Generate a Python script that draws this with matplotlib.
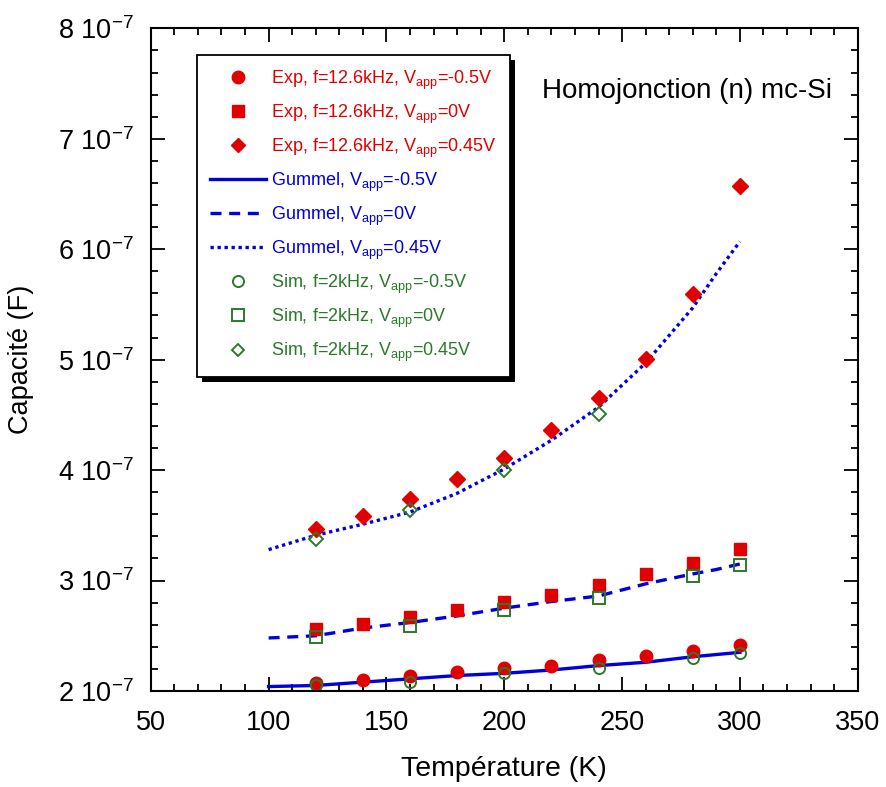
import numpy as np
import matplotlib
matplotlib.use("Agg")
import matplotlib.pyplot as plt
from matplotlib.ticker import MultipleLocator, FuncFormatter
from matplotlib.lines import Line2D
from matplotlib.patches import Rectangle

plt.rcParams["font.family"] = ["Liberation Sans", "DejaVu Sans"]
plt.rcParams["mathtext.default"] = "regular"

# Temperatures (K)
t_exp = [120, 140, 160, 180, 200, 220, 240, 260, 280, 300]
t_sim = [120, 160, 200, 240, 280, 300]
t_sim_045 = [120, 160, 200, 240]
t_gum = [100, 120, 140, 160, 180, 200, 220, 240, 260, 280, 290, 300]

# Capacitance in units of 1e-7 F
exp_m05 = [2.07, 2.10, 2.14, 2.17, 2.21, 2.23, 2.28, 2.32, 2.36, 2.42]
exp_0 = [2.56, 2.61, 2.67, 2.73, 2.81, 2.87, 2.96, 3.06, 3.16, 3.29]
exp_045 = [3.47, 3.58, 3.74, 3.92, 4.11, 4.36, 4.65, 5.01, 5.59, 6.57]

gum_m05 = [2.04, 2.05, 2.08, 2.11, 2.14, 2.16, 2.19, 2.23, 2.26, 2.31, 2.33, 2.35]
gum_0 = [2.48, 2.50, 2.57, 2.62, 2.68, 2.75, 2.81, 2.86, 2.97, 3.06, 3.10, 3.15]
gum_045 = [3.28, 3.41, 3.51, 3.62, 3.79, 4.01, 4.27, 4.57, 4.97, 5.47, 5.78, 6.07]

sim_m05 = [2.05, 2.08, 2.16, 2.21, 2.30, 2.34]
sim_0 = [2.49, 2.59, 2.73, 2.84, 3.04, 3.14]
sim_045 = [3.38, 3.64, 4.00, 4.51]

red = "#e00000"
blue = "#0000dd"
green = "#2a7a2a"
scale = 1e-7
dash = (0, (3.3, 2.3))
dot = (0, (1, 1.1))

fig = plt.figure(figsize=(8.87, 7.87), dpi=100)
ax = fig.add_axes([0.170, 0.122, 0.797, 0.842])

# Gummel curves
ax.plot(t_gum, np.array(gum_m05) * scale, color=blue, lw=2.4, ls="-")
ax.plot(t_gum, np.array(gum_0) * scale, color=blue, lw=2.4, ls=dash)
ax.plot(t_gum, np.array(gum_045) * scale, color=blue, lw=2.4, ls=dot)

# Experimental points
ax.plot(t_exp, np.array(exp_m05) * scale, "o", color=red, ms=9, mec=red)
ax.plot(t_exp, np.array(exp_0) * scale, "s", color=red, ms=9, mec=red)
ax.plot(t_exp, np.array(exp_045) * scale, "D", color=red, ms=8, mec=red)

# Simulated points
ax.plot(t_sim, np.array(sim_m05) * scale, "o", mfc="none", mec=green, ms=8, mew=1.4)
ax.plot(t_sim, np.array(sim_0) * scale, "s", mfc="none", mec=green, ms=8, mew=1.4)
ax.plot(t_sim_045, np.array(sim_045) * scale, "D", mfc="none", mec=green, ms=7, mew=1.4)

ax.set_xlim(50, 350)
ax.set_ylim(2e-7, 8e-7)
ax.xaxis.set_major_locator(MultipleLocator(50))
ax.xaxis.set_minor_locator(MultipleLocator(10))
ax.yaxis.set_major_locator(MultipleLocator(1e-7))
ax.yaxis.set_minor_locator(MultipleLocator(0.2e-7))
ax.yaxis.set_major_formatter(FuncFormatter(lambda v, p: f"{v / scale:.0f} 10$^{{-7}}$"))

ax.tick_params(which="both", direction="in", top=True, right=True, width=1.3)
ax.tick_params(which="major", length=10, labelsize=19.5)
ax.tick_params(axis="x", which="major", pad=14)
ax.tick_params(axis="y", which="major", pad=12)
ax.tick_params(which="minor", length=5)
for sp in ax.spines.values():
    sp.set_linewidth(1.5)

ax.set_xlabel("Température (K)", fontsize=20.5, labelpad=14)
ax.set_ylabel("Capacité (F)", fontsize=19.5)
ax.yaxis.set_label_coords(-0.1655, 0.5)

ax.text(0.963, 0.905, "Homojonction (n) mc-Si", transform=ax.transAxes,
        ha="right", va="center", fontsize=20)

handles = [
    Line2D([], [], ls="none", marker="o", color=red, ms=9),
    Line2D([], [], ls="none", marker="s", color=red, ms=9),
    Line2D([], [], ls="none", marker="D", color=red, ms=7),
    Line2D([], [], color=blue, lw=2.4, ls="-"),
    Line2D([], [], color=blue, lw=2.4, ls=dash),
    Line2D([], [], color=blue, lw=2.4, ls=dot),
    Line2D([], [], ls="none", marker="o", mfc="none", mec=green, ms=8, mew=1.4),
    Line2D([], [], ls="none", marker="s", mfc="none", mec=green, ms=8, mew=1.4),
    Line2D([], [], ls="none", marker="D", mfc="none", mec=green, ms=6, mew=1.4),
]
labels = [
    r"Exp, f=12.6kHz, V$_{app}$=-0.5V",
    r"Exp, f=12.6kHz, V$_{app}$=0V",
    r"Exp, f=12.6kHz, V$_{app}$=0.45V",
    r"Gummel, V$_{app}$=-0.5V",
    r"Gummel, V$_{app}$=0V",
    r"Gummel, V$_{app}$=0.45V",
    r"Sim, f=2kHz, V$_{app}$=-0.5V",
    r"Sim, f=2kHz, V$_{app}$=0V",
    r"Sim, f=2kHz, V$_{app}$=0.45V",
]
colors = [red] * 3 + [blue] * 3 + [green] * 3
leg = ax.legend(handles, labels, loc="upper left", bbox_to_anchor=(0.065, 0.96),
                borderaxespad=0, fontsize=13, labelcolor=colors, handlelength=3.1,
                handletextpad=0.25, labelspacing=0.6, borderpad=0.75,
                fancybox=False, edgecolor="black", framealpha=1)
leg.get_frame().set_linewidth(1.3)

# solid black drop shadow behind the legend box
fig.canvas.draw()
bb = leg.get_window_extent()
shadow = Rectangle((bb.x0 + 5, bb.y0 - 5), bb.width, bb.height, transform=None,
                   facecolor="black", edgecolor="none", zorder=leg.get_zorder() - 0.1)
ax.add_artist(shadow)

fig.savefig("out.png", dpi=100)
